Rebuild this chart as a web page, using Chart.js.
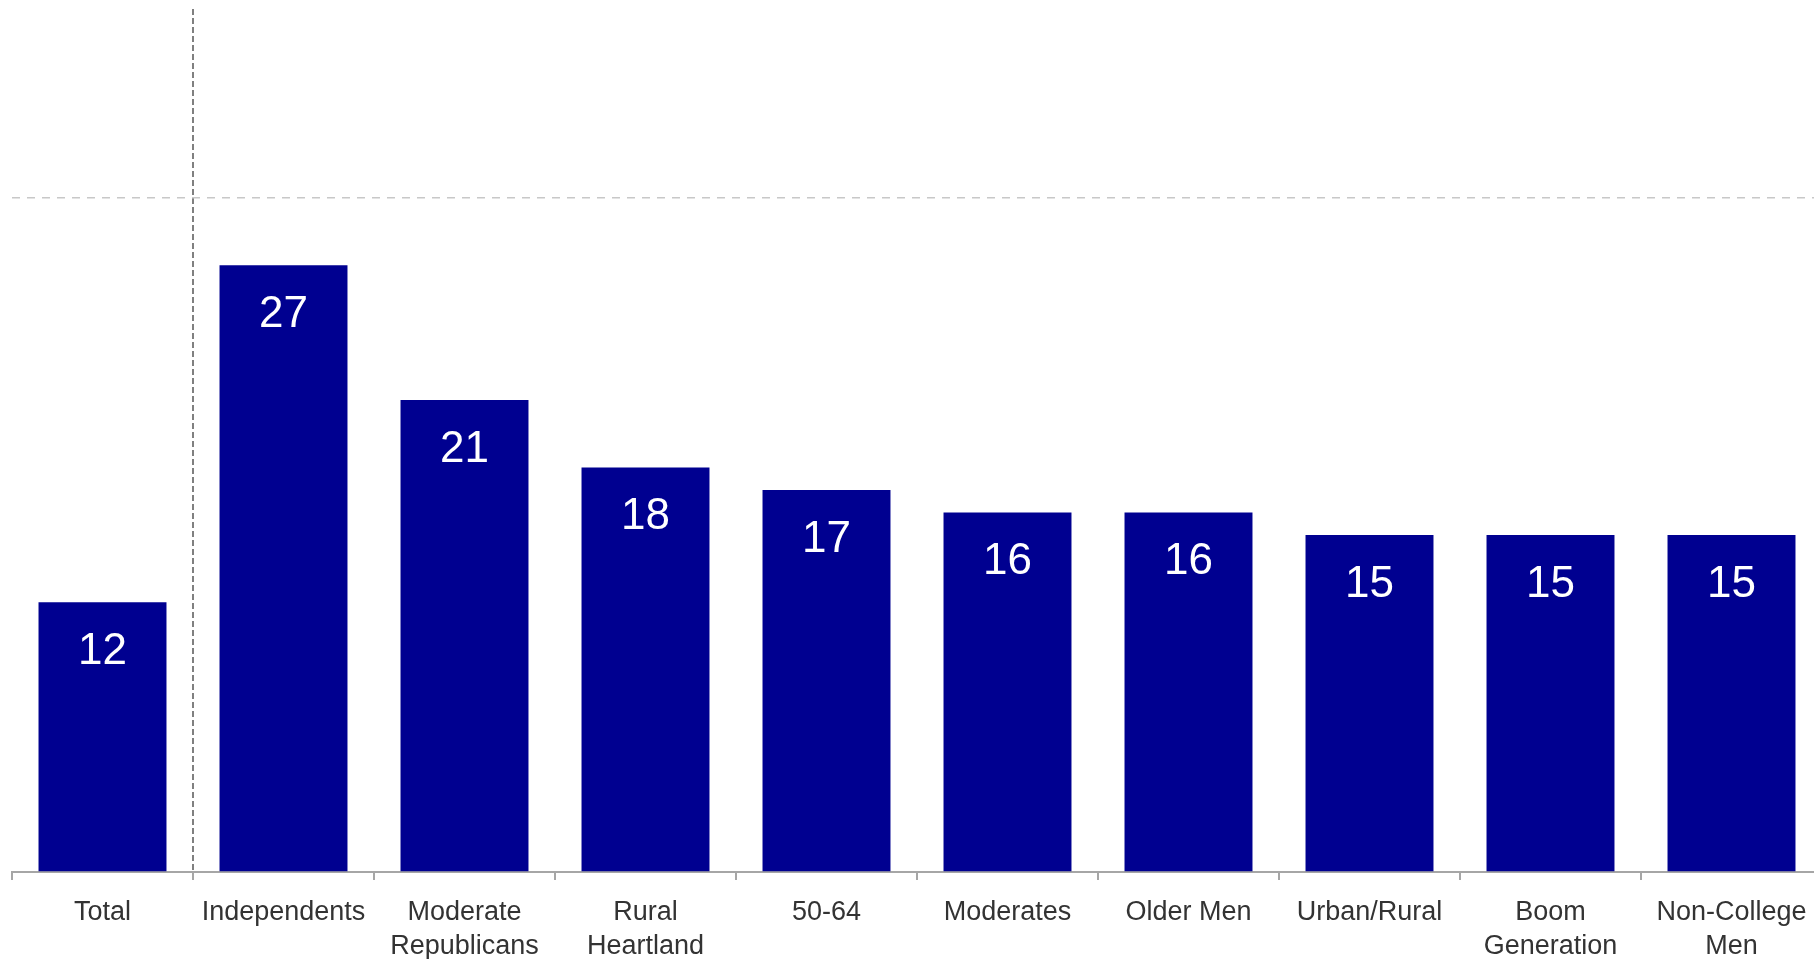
<!DOCTYPE html>
<html>
<head>
<meta charset="utf-8">
<script src="https://cdn.jsdelivr.net/npm/chart.js@4"></script>
<style>
  html, body { margin: 0; padding: 0; overflow: hidden; background: #fff; }
  #wrap { position: absolute; left: 0; top: 0; }
</style>
</head>
<body>
<div id="wrap"><canvas id="chart" width="1824" height="959"></canvas></div>
<script>
// Groups and their values
const groups = ['Total', 'Independents', ['Moderate', 'Republicans'], ['Rural', 'Heartland'], '50-64',
                'Moderates', 'Older Men', 'Urban/Rural', ['Boom', 'Generation'], ['Non-College', 'Men']];
const values = [12, 27, 21, 18, 17, 16, 16, 15, 15, 15];
const gridValues = [0, 30];

// White value labels inside the top of each bar
const valueLabels = {
    id: 'valueLabels',
    afterDatasetsDraw(chart) {
        const ctx = chart.ctx;
        const meta = chart.getDatasetMeta(0);
        ctx.save();
        ctx.fillStyle = '#ffffff';
        ctx.font = '44px "Liberation Sans", Arial, sans-serif';
        ctx.textAlign = 'center';
        ctx.textBaseline = 'alphabetic';
        meta.data.forEach((bar, i) => {
            ctx.fillText(String(values[i]), bar.x, bar.y + 62);
        });
        ctx.restore();
    }
};

const ctx = document.getElementById('chart').getContext('2d');
new Chart(ctx, {
    type: 'bar',
    data: {
        labels: groups,
        datasets: [{
            data: values,
            backgroundColor: '#000090',
            categoryPercentage: 1,
            barPercentage: 0.707
        }]
    },
    options: {
        responsive: false,
        animation: false,
        layout: { padding: { left: 12, right: 2, top: 9, bottom: 0 } },
        plugins: {
            legend: { display: false },
            tooltip: { enabled: false }
        },
        scales: {
            x: {
                offset: true,
                grid: {
                    offset: true,
                    color: (c) => c.index === 1 ? '#808080' : 'transparent',
                    lineWidth: 2,
                    borderDash: [6, 3],
                    drawTicks: true,
                    tickLength: 8,
                    tickColor: '#a6a6a6',
                    tickWidth: 2,
                    tickBorderDash: []
                },
                border: { display: true, color: '#a6a6a6', width: 2, dash: [6, 3] },
                ticks: {
                    autoSkip: false,
                    maxRotation: 0,
                    padding: 15,
                    color: '#333333',
                    font: { family: '"Liberation Sans", Arial, sans-serif', size: 27, lineHeight: 1.28 }
                },
                afterFit: (s) => { s.height = 87; }
            },
            y: {
                min: 0,
                max: 38.4,
                afterBuildTicks: (s) => { s.ticks = gridValues.map(v => ({ value: v })); },
                ticks: { display: false },
                grid: {
                    drawTicks: false,
                    color: (c) => c.tick && c.tick.value === 30 ? '#c8c8c8' : 'transparent',
                    lineWidth: 1.5,
                    borderDash: [8, 7]
                },
                border: { display: false, dash: [8, 7] },
                afterFit: (s) => { s.width = 0; }
            }
        }
    },
    plugins: [valueLabels]
});
</script>
</body>
</html>
